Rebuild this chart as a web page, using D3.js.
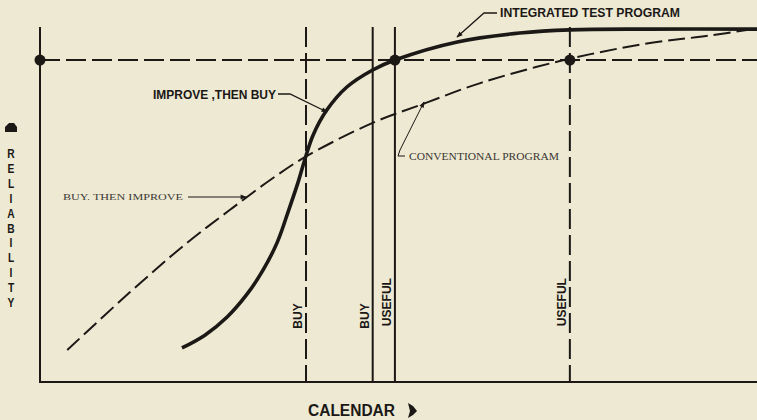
<!DOCTYPE html>
<meta charset="utf-8">
<script src="https://d3js.org/d3.v7.min.js"></script>
<style>
  body {
    margin: 0;
    background: #ede9d2;
  }
  svg {
    display: block;
    background: #ede9d2;
  }
  .bold {
    font-family: 'Liberation Sans', Arial, sans-serif;
    font-weight: bold;
  }
  .serif {
    font-family: 'Liberation Serif', 'DejaVu Serif', serif;
  }
</style>
<body>
<svg width="757" height="420"></svg>
</body>
<script>

// calendar time (0-100) vs reliability (0-100)
var integratedX = [19.8, 23.0, 26.1, 28.9, 31.1, 33.1, 34.7, 36.0, 37.0, 38.1, 40.0, 42.8, 46.4, 49.5, 58.2, 66.9, 73.9, 85.1, 100];
var integratedY = [9.6, 13.2, 18.3, 24.8, 31.5, 39.4, 48.5, 56.3, 63.1, 69.6, 76.6, 83.1, 87.9, 90.7, 95.8, 98.3, 99.2, 99.4, 99.4];

var conventionalX = [3.8, 12.6, 20.5, 26.5, 32.1, 37.0, 46.4, 53.4, 61.4, 72.5, 84.2, 93.4, 100];
var conventionalY = [9.0, 25.4, 39.2, 48.5, 56.9, 63.4, 73.0, 78.3, 84.2, 90.4, 95.2, 97.6, 99.6];

// required reliability level
var targetReliability = 90.7;

// milestones on the calendar
var milestoneX = [37.1, 46.4, 49.5, 73.9];
var milestoneLabel = ["BUY", "BUY", "USEFUL", "USEFUL"];
var milestoneProgram = ["conventional", "integrated", "integrated", "conventional"];

// points where the target is met
var targetX = [0, 49.5, 73.9];

var ink = "#1b1816";

var svg = d3.select("svg"),
    margin = {top: 27, right: 0, bottom: 38, left: 40},
    width = +svg.attr("width") - margin.left - margin.right,
    height = +svg.attr("height") - margin.top - margin.bottom,
    g = svg.append("g").attr("transform", "translate(" + margin.left + "," + margin.top + ")");

var x = d3.scaleLinear().domain([0, 100]).range([0, width]);
var y = d3.scaleLinear().domain([0, 100]).range([height, 0]);

// arrow head for the leader lines
svg.append("defs").append("marker")
    .attr("id", "arrow")
    .attr("viewBox", "0 0 10 10")
    .attr("refX", 9)
    .attr("refY", 5)
    .attr("markerWidth", 7)
    .attr("markerHeight", 6)
    .attr("markerUnits", "userSpaceOnUse")
    .attr("orient", "auto")
  .append("path")
    .attr("d", "M0,1 L10,5 L0,9 Z")
    .attr("fill", ink);

// target reliability line
g.append("line")
    .attr("x1", x(0))
    .attr("x2", x(100))
    .attr("y1", y(targetReliability))
    .attr("y2", y(targetReliability))
    .attr("stroke", ink)
    .attr("stroke-width", 2)
    .attr("stroke-dasharray", "20,6");

// milestone lines
g.selectAll(".milestone")
  .data(milestoneX)
  .enter().append("line")
    .attr("class", "milestone")
    .attr("x1", function(d) { return x(d); })
    .attr("x2", function(d) { return x(d); })
    .attr("y1", y(100))
    .attr("y2", y(0))
    .attr("stroke", ink)
    .attr("stroke-width", 2)
    .attr("stroke-dasharray", function(d, i) { return milestoneProgram[i] == "conventional" ? "20,6" : null; });

g.selectAll(".mlabel")
  .data(milestoneX)
  .enter().append("text")
    .attr("class", "mlabel bold")
    .attr("transform", function(d, i) {
      var yy = milestoneLabel[i] == "BUY" ? y(18.6) : y(22.5);
      return "translate(" + (x(d) - 4) + "," + yy + ") rotate(-90)";
    })
    .attr("text-anchor", "middle")
    .attr("font-size", 12)
    .attr("fill", ink)
    .text(function(d, i) { return milestoneLabel[i]; });

// axes (plain lines, no ticks)
g.append("line")
    .attr("x1", x(0)).attr("x2", x(0))
    .attr("y1", y(100)).attr("y2", y(0))
    .attr("stroke", ink).attr("stroke-width", 2);

g.append("line")
    .attr("x1", x(0) - 1).attr("x2", x(100))
    .attr("y1", y(0)).attr("y2", y(0))
    .attr("stroke", ink).attr("stroke-width", 2.2);

// curves
var integrated = integratedX.map(function(d, i) { return [d, integratedY[i]]; });
var conventional = conventionalX.map(function(d, i) { return [d, conventionalY[i]]; });

var line = d3.line()
    .x(function(d) { return x(d[0]); })
    .y(function(d) { return y(d[1]); })
    .curve(d3.curveCatmullRom.alpha(0.5));

g.append("path")
    .datum(conventional)
    .attr("fill", "none")
    .attr("stroke", ink)
    .attr("stroke-width", 2)
    .attr("stroke-dasharray", "17,6")
    .attr("d", line);

g.append("path")
    .datum(integrated)
    .attr("fill", "none")
    .attr("stroke", ink)
    .attr("stroke-width", 3.6)
    .attr("stroke-linecap", "butt")
    .attr("d", line);

// dots where the target is reached
g.selectAll(".dot")
  .data(targetX)
  .enter().append("circle")
    .attr("class", "dot")
    .attr("cx", function(d) { return x(d); })
    .attr("cy", y(targetReliability))
    .attr("r", 5.5)
    .attr("fill", ink);

// curve labels + leaders
function label(txt, xx, yy, len, size, cls, col) {
  svg.append("text")
      .attr("class", cls)
      .attr("x", xx)
      .attr("y", yy)
      .attr("font-size", size)
      .attr("textLength", len)
      .attr("lengthAdjust", "spacingAndGlyphs")
      .attr("fill", col || ink)
      .text(txt);
}

function leader(pts, w) {
  svg.append("path")
      .attr("d", d3.line()(pts))
      .attr("fill", "none")
      .attr("stroke", ink)
      .attr("stroke-width", w || 1.3)
      .attr("marker-end", "url(#arrow)");
}

label("INTEGRATED TEST PROGRAM", 500, 17, 180, 12, "bold");
leader([[497, 13], [484, 13], [457, 37]]);

label("IMPROVE ,THEN BUY", 153, 99, 123, 12, "bold");
leader([[278, 94], [290, 94], [327, 112]]);

label("BUY. THEN IMPROVE", 63, 200, 120, 9, "serif", "#3a3632");
leader([[188, 197], [246, 197]], 1);

label("CONVENTIONAL PROGRAM", 409, 160, 150, 9.5, "serif", "#3a3632");
leader([[405, 156], [398, 156], [400, 150], [424, 102]], 1);

// y axis title: stacked letters
var yTitle = "RELIABILITY".split("");
svg.selectAll(".ylet")
  .data(yTitle)
  .enter().append("text")
    .attr("class", "ylet bold")
    .attr("transform", function(d, i) { return "translate(11," + (158 + i * 14.9) + ") scale(0.8,1)"; })
    .attr("text-anchor", "middle")
    .attr("font-size", 12.8)
    .attr("fill", ink)
    .text(function(d) { return d; });

svg.append("path")
    .attr("d", "M5,132 L5,127 L9,123 L14,123 L17,127 L17,132 Z")
    .attr("fill", ink);

// x axis title
svg.append("text")
    .attr("class", "bold")
    .attr("x", 308)
    .attr("y", 416)
    .attr("font-size", 16)
    .attr("textLength", 87)
    .attr("lengthAdjust", "spacingAndGlyphs")
    .attr("fill", ink)
    .text("CALENDAR");

svg.append("path")
    .attr("d", "M408,403 L413,406 L417,411 L413,415 L408,418 L410,411 Z")
    .attr("fill", ink);

</script>
